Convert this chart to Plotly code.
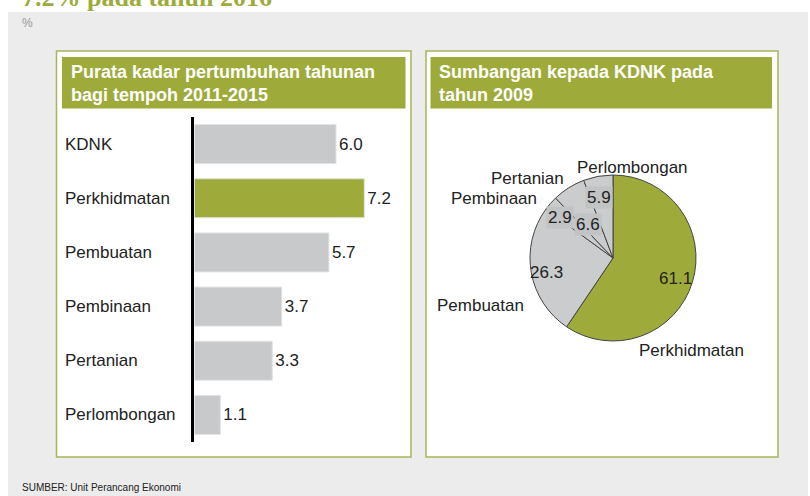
import plotly.graph_objects as go

# data
bar_categories = ["KDNK", "Perkhidmatan", "Pembuatan", "Pembinaan", "Pertanian", "Perlombongan"]
bar_values = [6.0, 7.2, 5.7, 3.7, 3.3, 1.1]

pie_labels = ["Perkhidmatan", "Pembuatan", "Pembinaan", "Pertanian", "Perlombongan"]
pie_values = [61.1, 26.3, 2.9, 6.6, 5.9]

title_left = "Purata kadar pertumbuhan tahunan<br>bagi tempoh 2011-2015"
title_right = "Sumbangan kepada KDNK pada<br>tahun 2009"
source_text = "SUMBER: Unit Perancang Ekonomi"
unit_text = "%"
cut_title = "7.2% pada tahun 2016"

W, H = 810, 496
GREEN = "#9eab3a"
GREY = "#c8c9cb"
PANEL = "#ebeceb"
TXT = "#222222"
FONT = "Liberation Sans, Arial, sans-serif"


def fx(x):
    return x / W


def fy(y):
    return 1 - y / H


fig = go.Figure()

# bar chart
bar_colors = [GREEN if c == "Perkhidmatan" else GREY for c in bar_categories]
fig.add_trace(go.Bar(
    x=bar_values, y=bar_categories, orientation="h",
    marker=dict(color=bar_colors, line=dict(color="#e2e3e4", width=1)),
    width=0.72,
    text=[f"{v:.1f}" for v in bar_values], textposition="outside",
    textfont=dict(size=17, color=TXT, family=FONT),
    cliponaxis=False, hoverinfo="skip", showlegend=False,
))

# pie chart
fig.add_trace(go.Pie(
    labels=pie_labels, values=pie_values, sort=False, direction="clockwise",
    rotation=0, textinfo="none", hoverinfo="skip", showlegend=False,
    marker=dict(colors=[GREEN] + ["#cbcccd"] * 4, line=dict(color="#444444", width=1)),
    domain=dict(x=[fx(613 - 84), fx(613 + 84)], y=[fy(258 + 83), fy(258 - 83)]),
))

x_zero, px_per_unit, x_end = 194.4, 23.6, 405
fig.update_xaxes(domain=[fx(x_zero), fx(x_end)], range=[0, (x_end - x_zero) / px_per_unit],
                 showgrid=False, zeroline=False, showline=False, showticklabels=False, ticks="")
fig.update_yaxes(domain=[fy(442), fy(117)], categoryorder="array", categoryarray=bar_categories,
                 autorange="reversed", showgrid=False, zeroline=False, showticklabels=False, ticks="",
                 showline=True, linecolor="black", linewidth=2.5)

shapes = [
    dict(type="rect", x0=fx(8), x1=fx(808), y0=fy(12), y1=fy(496), fillcolor=PANEL, line_width=0),
    dict(type="rect", x0=fx(56.5), x1=fx(411), y0=fy(51), y1=fy(457), fillcolor="white",
         line=dict(color="#aab45a", width=1.5)),
    dict(type="rect", x0=fx(426), x1=fx(778), y0=fy(51), y1=fy(457), fillcolor="white",
         line=dict(color="#aab45a", width=1.5)),
    dict(type="rect", x0=fx(62), x1=fx(405.5), y0=fy(57), y1=fy(108.5), fillcolor=GREEN, line_width=0),
    dict(type="rect", x0=fx(430.5), x1=fx(772), y0=fy(57), y1=fy(108.5), fillcolor=GREEN, line_width=0),
]
for s in shapes:
    s.update(xref="paper", yref="paper", layer="below")

ann = []
# headers
for x, t in [(69, title_left), (437, title_right)]:
    ann.append(dict(x=fx(x), y=fy(84), text=f"<b>{t}</b>", xanchor="left", yanchor="middle",
                    align="left", font=dict(size=18, color="white", family=FONT)))
# bar category labels
for c in bar_categories:
    ann.append(dict(x=fx(63), y=c, xref="paper", yref="y", text=c, xanchor="left", yanchor="middle",
                    font=dict(size=17, color=TXT, family=FONT)))

# pie labels
label_pos = {
    "Perlombongan": (632, 168),
    "Pertanian": (527, 178),
    "Pembinaan": (494, 198),
    "Pembuatan": (481, 305),
    "Perkhidmatan": (691, 350),
}
value_pos = {
    "Perkhidmatan": (675, 278),
    "Pembuatan": (546, 272),
    "Pembinaan": (560, 218),
    "Pertanian": (588, 224),
    "Perlombongan": (599, 197),
}
for lab, val in zip(pie_labels, pie_values):
    lx, ly = label_pos[lab]
    ann.append(dict(x=fx(lx), y=fy(ly), text=lab, xanchor="center", yanchor="middle",
                    font=dict(size=17, color=TXT, family=FONT)))
    vx, vy = value_pos[lab]
    small = val < 10
    ann.append(dict(x=fx(vx), y=fy(vy), text=f"{val:.1f}", xanchor="center", yanchor="middle",
                    bgcolor="#c2c3c4" if small else None, borderpad=1,
                    font=dict(size=17, color=TXT, family=FONT)))

# misc text
ann.append(dict(x=fx(20), y=fy(23), text=unit_text, xanchor="left", yanchor="middle",
                font=dict(size=12, color="#999999", family=FONT)))
ann.append(dict(x=fx(20), y=fy(487), text=source_text, xanchor="left", yanchor="middle",
                font=dict(size=10, color=TXT, family="Liberation Sans Narrow, Arial Narrow, sans-serif")))
# headline above the chart, cut off by the top edge as in the original
ann.append(dict(x=fx(20), y=fy(14), text=f"<b>{cut_title}</b>", xanchor="left", yanchor="bottom",
                font=dict(size=26, color=GREEN, family="Liberation Serif, Georgia, serif")))

for a in ann:
    a.setdefault("xref", "paper")
    a.setdefault("yref", "paper")
    a["showarrow"] = False

fig.update_layout(
    width=W, height=H, margin=dict(l=0, r=0, t=0, b=0),
    paper_bgcolor="white", plot_bgcolor="rgba(0,0,0,0)",
    shapes=shapes, annotations=ann, font=dict(family=FONT),
)

fig.write_html("out.html", config={"displayModeBar": False},
               post_script="document.body.style.margin='0';")
